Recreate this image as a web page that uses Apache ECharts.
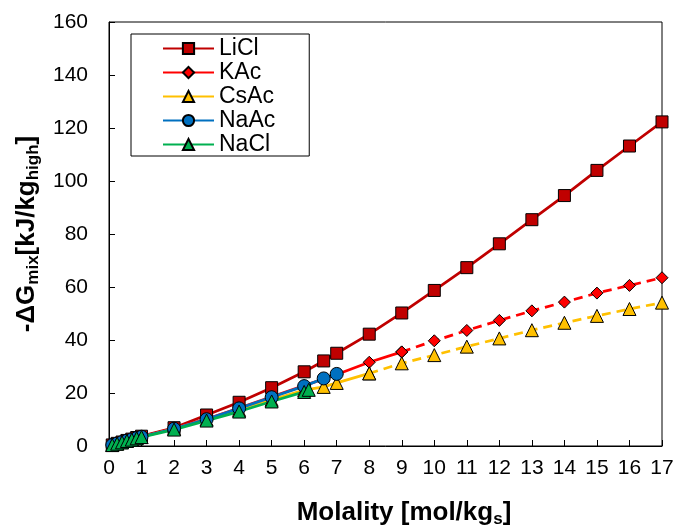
<!DOCTYPE html>
<html><head><meta charset="utf-8">
<script src="https://cdn.jsdelivr.net/npm/echarts@6/dist/echarts.min.js"></script>
<style>html,body{margin:0;padding:0;background:#fff}#c{width:676px;height:530px}</style>
</head><body><div id="c"></div>
<script>
const xTicks = [0,1,2,3,4,5,6,7,8,9,10,11,12,13,14,15,16,17];
const yTicks = [0,20,40,60,80,100,120,140,160];
const seriesNames = ['LiCl','KAc','CsAc','NaAc','NaCl'];

const LiCl_x = [0.1,0.25,0.4,0.55,0.7,0.85,1,2,3,4,5,6,6.6,7,8,9,10,11,12,13,14,15,16,17];
const LiCl_y = [0.4,1.0,1.5,2.1,2.6,3.2,3.7,6.9,11.7,16.5,22.0,28.0,32.1,35.0,42.2,50.2,58.7,67.3,76.3,85.4,94.5,104.0,113.2,122.3];

const KAc_x = [0.1,0.25,0.4,0.55,0.7,0.85,1,2,3,4,5,6,7,8,9,10,11,12,13,14,15,16,17];
const KAc_y = [0.37,0.9,1.45,2.0,2.5,3.0,3.5,6.7,10.2,14.3,18.6,22.8,27.0,31.6,35.5,39.7,43.6,47.4,51.0,54.3,57.7,60.6,63.5];

const CsAc_x = [0.1,0.25,0.4,0.55,0.7,0.85,1,2,3,4,5,6,6.6,7,8,9,10,11,12,13,14,15,16,17];
const CsAc_y = [0.36,0.88,1.4,1.95,2.45,2.95,3.4,6.5,10.0,13.6,17.4,21.1,22.3,23.8,27.4,31.2,34.3,37.5,40.6,43.7,46.5,49.1,51.7,54.1];

const NaAc_x = [0.1,0.25,0.4,0.55,0.7,0.85,1,2,3,4,5,6,6.6,7];
const NaAc_y = [0.37,0.9,1.45,2.0,2.5,3.0,3.5,6.5,10.1,14.2,18.4,22.6,25.5,27.2];

const NaCl_x = [0.1,0.25,0.4,0.55,0.7,0.85,1,2,3,4,5,6,6.14];
const NaCl_y = [0.35,0.87,1.38,1.9,2.4,2.9,3.35,6.2,9.6,13.0,16.8,20.4,21.2];

// molality where measured data ends and dashed extrapolation begins
const KAc_dashFrom = 9;
const CsAc_dashFrom = 8;

function zip(xs, ys){ return xs.map((x,i)=>[x, ys[i]]); }
function upTo(xs, ys, lim){ return zip(xs,ys).filter(p=>p[0]<=lim); }
function from(xs, ys, lim){ return zip(xs,ys).filter(p=>p[0]>=lim); }

const FONT = '"Liberation Sans", Arial, sans-serif';
const colors = {LiCl:'#C00000', KAc:'#FF0000', CsAc:'#FFC000', NaAc:'#0070C0', NaCl:'#00B050'};
const symbols = {LiCl:'rect', KAc:'diamond', CsAc:'triangle', NaAc:'circle', NaCl:'triangle'};
const sizes = {LiCl:12, KAc:12, CsAc:13, NaAc:13, NaCl:13};

function mk(name, data, dashed){
  return {
    name, type:'line', data,
    symbol: symbols[name], symbolSize: sizes[name],
    showAllSymbol: true,
    itemStyle:{color: colors[name], borderColor:'#000', borderWidth:1},
    lineStyle:{color: colors[name], width:2.75, type: dashed ? [9,6] : 'solid'},
    emphasis:{disabled:true}, animation:false
  };
}

const titleRich = {
  m:{fontFamily:FONT, fontSize:26, fontWeight:'bold', color:'#000', lineHeight:30},
  s:{fontFamily:FONT, fontSize:17, fontWeight:'bold', color:'#000', lineHeight:12, verticalAlign:'bottom'}
};

const chart = echarts.init(document.getElementById('c'), null, {renderer:'canvas'});
chart.setOption({
  backgroundColor:'#fff',
  animation:false,
  grid:{left:109, top:22, right:14, bottom:84, show:true, borderColor:'#000', borderWidth:1,
        containLabel:false, outerBoundsMode:'none'},
  legend:{
    data: seriesNames, orient:'vertical', left:131, top:34,
    backgroundColor:'#fff', borderColor:'#000', borderWidth:1,
    padding:[3,34,0,31], itemGap:1, itemWidth:51, itemHeight:14,
    textStyle:{fontFamily:FONT, fontSize:23, color:'#000'},
    selectedMode:false
  },
  xAxis:{
    type:'value', min:0, max:17, interval:1,
    axisLine:{show:true, lineStyle:{color:'#000', width:1}},
    axisTick:{show:true, inside:true, length:6, lineStyle:{color:'#000'}},
    splitLine:{show:false},
    axisLabel:{fontFamily:FONT, fontSize:21, color:'#000', margin:12,
      formatter:v=> xTicks.includes(v) ? String(v) : ''},
    name:'{m|Molality [mol/kg}{s|s}{m|]}', nameLocation:'middle', nameGap:52,
    nameTextStyle:{padding:[0,0,0,37], rich:titleRich}
  },
  yAxis:{
    type:'value', min:0, max:160, interval:20,
    axisLine:{show:true, lineStyle:{color:'#000', width:1}},
    axisTick:{show:true, inside:true, length:6, lineStyle:{color:'#000'}},
    splitLine:{show:false},
    axisLabel:{fontFamily:FONT, fontSize:21, color:'#000', margin:21,
      formatter:v=> yTicks.includes(v) ? String(v) : ''},
    name:'{m|-ΔG}{s|mix}{m|[kJ/kg}{s|high}{m|]}', nameLocation:'middle', nameGap:66, nameRotate:90,
    nameTextStyle:{rich:titleRich}
  },
  series:[
    mk('LiCl', zip(LiCl_x, LiCl_y), false),
    mk('KAc', upTo(KAc_x, KAc_y, KAc_dashFrom), false),
    mk('KAc', from(KAc_x, KAc_y, KAc_dashFrom), true),
    mk('CsAc', upTo(CsAc_x, CsAc_y, CsAc_dashFrom), false),
    mk('CsAc', from(CsAc_x, CsAc_y, CsAc_dashFrom), true),
    mk('NaAc', zip(NaAc_x, NaAc_y), false),
    mk('NaCl', zip(NaCl_x, NaCl_y), false)
  ]
});
</script></body></html>
